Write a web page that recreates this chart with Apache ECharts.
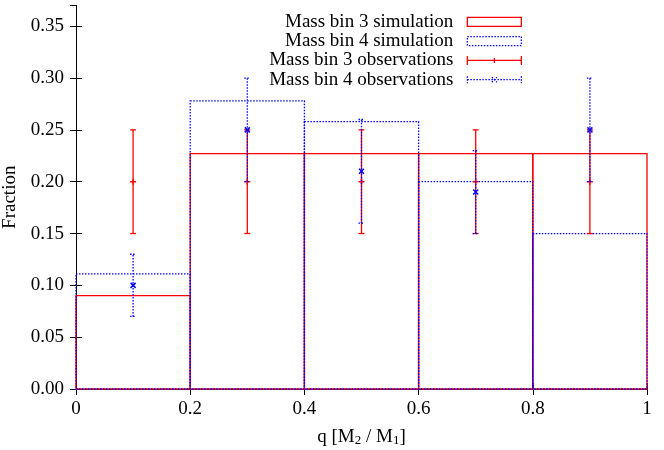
<!DOCTYPE html>
<html>
<head>
<meta charset="utf-8">
<script src="https://cdn.jsdelivr.net/npm/echarts@6/dist/echarts.min.js"></script>
<style>html,body{margin:0;padding:0;background:#fff}#c{width:664px;height:450px}</style>
</head>
<body>
<div id="c"></div>
<script>
// ---- data ----
const binEdges = [0, 0.2, 0.4, 0.6, 0.8, 1.0];
const bin3Sim = [0.09, 0.227, 0.227, 0.227, 0.227];
const bin4Sim = [0.111, 0.278, 0.258, 0.2, 0.15];
const obsX = [0.1, 0.3, 0.5, 0.7, 0.9];
const bin3Obs = [0.2, 0.2, 0.2, 0.2, 0.2];
const bin3Low = [0.15, 0.15, 0.15, 0.15, 0.15];
const bin3High = [0.25, 0.25, 0.25, 0.25, 0.25];
const bin4Obs = [0.1, 0.25, 0.21, 0.19, 0.25];
const bin4Low = [0.07, 0.2, 0.16, 0.15, 0.2];
const bin4High = [0.13, 0.3, 0.26, 0.23, 0.3];
const xTicks = [0, 0.2, 0.4, 0.6, 0.8, 1];
const yTicks = [0, 0.05, 0.1, 0.15, 0.2, 0.25, 0.3, 0.35];
const seriesNames = ['Mass bin 3 simulation', 'Mass bin 4 simulation', 'Mass bin 3 observations', 'Mass bin 4 observations'];

const RED = '#ff0000', BLUE = '#0000ff';
const FONT = '"Liberation Serif", "Times New Roman", serif';
const DOT = [1.5, 1.5];

function boxData(vals) { return vals.map((v, i) => [binEdges[i], binEdges[i + 1], v]); }
function obsData(ys, lo, hi) { return obsX.map((x, i) => [x, ys[i], lo[i], hi[i]]); }

function boxRender(color, dash) {
  return function (params, api) {
    const p0 = api.coord([api.value(0), api.value(2)]);
    const p1 = api.coord([api.value(1), 0]);
    return {
      type: 'rect',
      shape: { x: p0[0], y: p0[1], width: p1[0] - p0[0], height: p1[1] - p0[1] },
      style: { fill: 'none', stroke: color, lineWidth: 1.3, lineDash: dash }
    };
  };
}

function errRender(color, dash, marker) {
  return function (params, api) {
    const x = api.value(0);
    const pc = api.coord([x, api.value(1)]);
    const pl = api.coord([x, api.value(2)]);
    const ph = api.coord([x, api.value(3)]);
    const cw = 3;
    const st = { stroke: color, lineWidth: 1.3, lineDash: dash };
    const children = [
      { type: 'line', shape: { x1: pl[0], y1: pl[1], x2: ph[0], y2: ph[1] }, style: st },
      { type: 'line', shape: { x1: pl[0] - cw, y1: pl[1], x2: pl[0] + cw, y2: pl[1] }, style: st },
      { type: 'line', shape: { x1: ph[0] - cw, y1: ph[1], x2: ph[0] + cw, y2: ph[1] }, style: st }
    ];
    const ms = { stroke: color, lineWidth: 1.5 };
    if (marker === 'plus') {
      children.push({ type: 'line', shape: { x1: pc[0] - 3, y1: pc[1], x2: pc[0] + 3, y2: pc[1] }, style: ms });
      children.push({ type: 'line', shape: { x1: pc[0], y1: pc[1] - 3, x2: pc[0], y2: pc[1] + 3 }, style: ms });
    } else {
      children.push({ type: 'line', shape: { x1: pc[0] - 2.5, y1: pc[1] - 2.5, x2: pc[0] + 2.5, y2: pc[1] + 2.5 }, style: ms });
      children.push({ type: 'line', shape: { x1: pc[0] - 2.5, y1: pc[1] + 2.5, x2: pc[0] + 2.5, y2: pc[1] - 2.5 }, style: ms });
    }
    return { type: 'group', children: children };
  };
}

const legendIcons = [
  { icon: 'rect', itemStyle: { color: 'rgba(0,0,0,0)', borderColor: RED, borderWidth: 1.3, borderType: 'solid' } },
  { icon: 'rect', itemStyle: { color: 'rgba(0,0,0,0)', borderColor: BLUE, borderWidth: 1.3, borderType: [1.5, 1.5] } },
  { icon: 'path://M0,0L0,9M54,0L54,9M0,4.5L54,4.5M27,2L27,7', itemStyle: { color: 'rgba(0,0,0,0)', borderColor: RED, borderWidth: 1.3, borderType: 'solid' } },
  { icon: 'path://M0,1L0,8M54,1L54,8M0,4.5L54,4.5M24.5,2L29.5,7M24.5,7L29.5,2', itemStyle: { color: 'rgba(0,0,0,0)', borderColor: BLUE, borderWidth: 1.3, borderType: [1.5, 1.5] } }
];
const legendTops = [12.3, 31.6, 50.9, 70.2];

const legends = seriesNames.map((n, i) => ({
  data: [Object.assign({ name: n }, legendIcons[i])],
  right: 142, top: legendTops[i],
  orient: 'horizontal', align: 'right',
  itemWidth: 54, itemHeight: 9, padding: 0,
  selectedMode: false,
  textStyle: { fontFamily: FONT, fontSize: 19, color: '#000', padding: [0, 9, 0, 0] }
}));

const axisCommon = {
  type: 'value',
  axisLine: { show: true, lineStyle: { color: '#000', width: 1 } },
  axisTick: { show: true, inside: true, length: 6, lineStyle: { color: '#000', width: 1 } },
  splitLine: { show: false }
};

const chart = echarts.init(document.getElementById('c'), null, { renderer: 'canvas' });
chart.setOption({
  animation: false,
  backgroundColor: '#fff',
  textStyle: { fontFamily: FONT, fontSize: 19, color: '#000' },
  legend: legends,
  grid: { left: 76, right: 17, top: 5.5, bottom: 61, containLabel: false, outerBoundsMode: 'none' },
  xAxis: [
    Object.assign({}, axisCommon, {
      position: 'bottom', min: 0, max: 1, interval: 0.2,
      axisLabel: {
        margin: 11, fontFamily: FONT, fontSize: 19, color: '#000',
        formatter: function (v) {
          const k = xTicks.findIndex(t => Math.abs(t - v) < 1e-9);
          if (k < 0) return '';
          return xTicks[k] === 0 ? '0' : xTicks[k] === 1 ? '1' : xTicks[k].toFixed(1);
        }
      },
      name: '{a|q [M}{s|2}{a| / M}{s|1}{a|]}',
      nameLocation: 'middle', nameGap: 37.5,
      nameTextStyle: {
        fontFamily: FONT, fontSize: 19, color: '#000',
        rich: {
          a: { fontFamily: FONT, fontSize: 19, color: '#000', lineHeight: 21 },
          s: { fontFamily: FONT, fontSize: 13, color: '#000', lineHeight: 13, verticalAlign: 'bottom' }
        }
      }
    }),
    Object.assign({}, axisCommon, {
      position: 'top', min: 0, max: 1, interval: 0.2,
      axisLabel: { show: false }
    })
  ],
  yAxis: [
    Object.assign({}, axisCommon, {
      position: 'left', min: 0, max: 0.37, interval: 0.05,
      axisLabel: {
        margin: 12, fontFamily: FONT, fontSize: 19, color: '#000', showMaxLabel: false,
        formatter: function (v) {
          const k = yTicks.findIndex(t => Math.abs(t - v) < 1e-9);
          return k < 0 ? '' : yTicks[k].toFixed(2);
        }
      },
      name: 'Fraction', nameLocation: 'middle', nameGap: 48, nameRotate: 90,
      nameTextStyle: { fontFamily: FONT, fontSize: 19, color: '#000' }
    }),
    Object.assign({}, axisCommon, {
      position: 'right', min: 0, max: 0.37, interval: 0.05,
      axisLabel: { show: false }
    })
  ],
  series: [
    { name: seriesNames[0], type: 'custom', xAxisIndex: 0, yAxisIndex: 0, data: boxData(bin3Sim),
      encode: { x: [0, 1], y: 2 }, renderItem: boxRender(RED, null), itemStyle: { color: RED } },
    { name: seriesNames[1], type: 'custom', xAxisIndex: 0, yAxisIndex: 0, data: boxData(bin4Sim),
      encode: { x: [0, 1], y: 2 }, renderItem: boxRender(BLUE, DOT), itemStyle: { color: BLUE } },
    { name: seriesNames[2], type: 'custom', xAxisIndex: 0, yAxisIndex: 0, data: obsData(bin3Obs, bin3Low, bin3High),
      encode: { x: 0, y: [1, 2, 3] }, renderItem: errRender(RED, null, 'plus'), itemStyle: { color: RED } },
    { name: seriesNames[3], type: 'custom', xAxisIndex: 0, yAxisIndex: 0, data: obsData(bin4Obs, bin4Low, bin4High),
      encode: { x: 0, y: [1, 2, 3] }, renderItem: errRender(BLUE, DOT, 'cross'), itemStyle: { color: BLUE } }
  ]
});
</script>
</body>
</html>
